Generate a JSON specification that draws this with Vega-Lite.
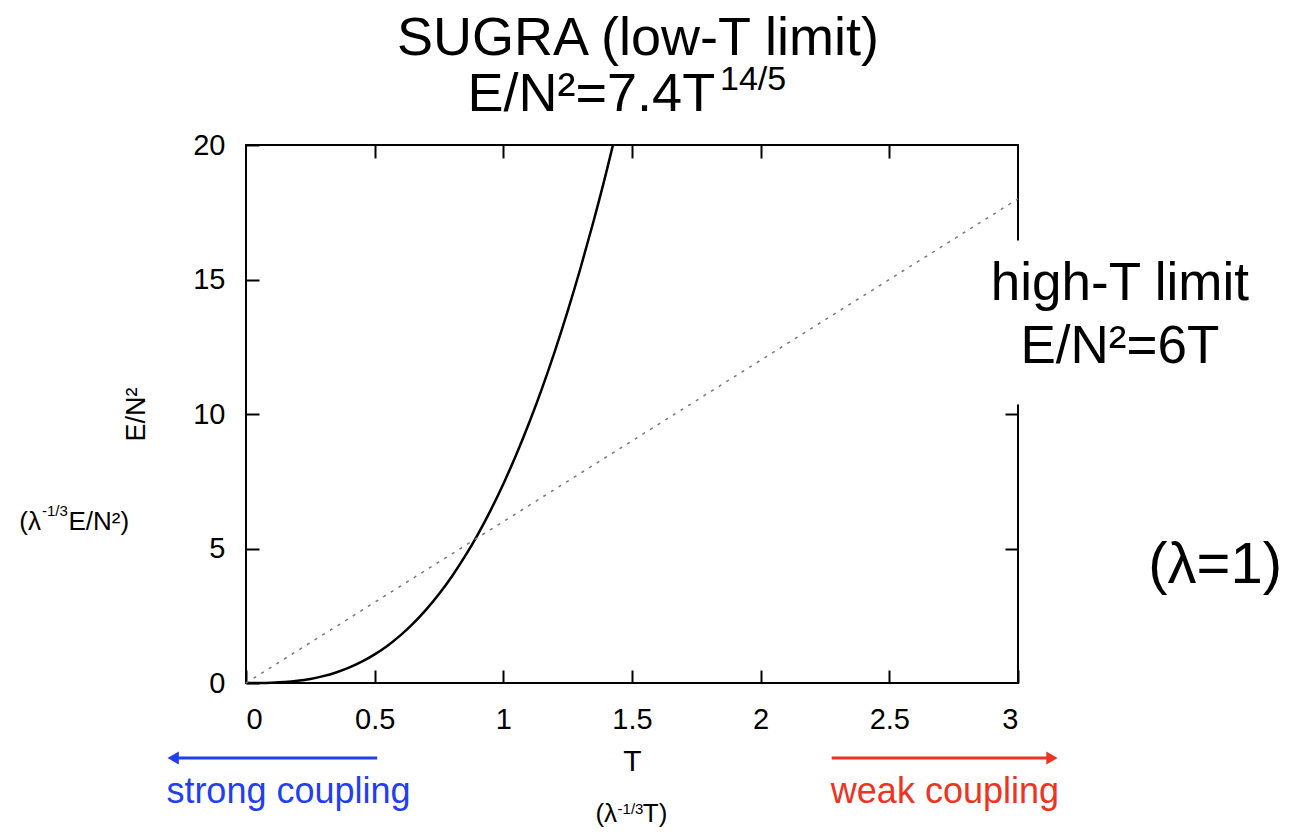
{
  "$schema": "https://vega.github.io/schema/vega-lite/v6.json",
  "width": 772,
  "height": 538,
  "autosize": {"type": "none"},
  "padding": {"left": 246, "top": 145, "right": 271, "bottom": 152},
  "background": "white",
  "config": {
    "view": {"stroke": "black", "strokeWidth": 2},
    "font": "Liberation Sans"
  },
  "resolve": {"axis": {"x": "independent", "y": "independent"}},
  "layer": [
    {
      "data": {"values": [
        {"T": 0, "E": 0}, {"T": 0.05, "E": 0.0017}, {"T": 0.1, "E": 0.0117}, {"T": 0.15, "E": 0.0365},
        {"T": 0.2, "E": 0.0817}, {"T": 0.25, "E": 0.1526}, {"T": 0.3, "E": 0.2543}, {"T": 0.35, "E": 0.3914},
        {"T": 0.4, "E": 0.5689}, {"T": 0.45, "E": 0.791}, {"T": 0.5, "E": 1.0626}, {"T": 0.55, "E": 1.3877},
        {"T": 0.6, "E": 1.7704}, {"T": 0.65, "E": 2.215}, {"T": 0.7, "E": 2.7259}, {"T": 0.75, "E": 3.307},
        {"T": 0.8, "E": 3.9617}, {"T": 0.85, "E": 4.6946}, {"T": 0.9, "E": 5.5096}, {"T": 0.95, "E": 6.41},
        {"T": 1.0, "E": 7.4}, {"T": 1.05, "E": 8.483}, {"T": 1.1, "E": 9.663}, {"T": 1.15, "E": 10.944},
        {"T": 1.2, "E": 12.329}, {"T": 1.25, "E": 13.822}, {"T": 1.3, "E": 15.427}, {"T": 1.35, "E": 17.147},
        {"T": 1.4, "E": 18.984}, {"T": 1.426, "E": 20}
      ]},
      "mark": {"type": "line", "color": "black", "strokeWidth": 2.5, "interpolate": "monotone"},
      "encoding": {
        "x": {"field": "T", "type": "quantitative", "scale": {"domain": [0, 3], "nice": false},
          "axis": {"orient": "bottom", "values": [0, 0.5, 1, 1.5, 2, 2.5, 3], "format": "~g", "domain": false, "grid": false,
            "ticks": true, "tickSize": -13, "tickWidth": 2, "tickColor": "black", "labelPadding": 35,
            "labelFont": "Liberation Sans", "labelFontSize": 29, "labelColor": "black",
            "title": "T", "titleFont": "Liberation Sans", "titleFontSize": 30, "titleFontWeight": "normal", "titleColor": "black", "titlePadding": 12}},
        "y": {"field": "E", "type": "quantitative", "scale": {"domain": [0, 20], "nice": false},
          "axis": {"orient": "left", "values": [0, 5, 10, 15, 20], "domain": false, "grid": false,
            "ticks": true, "tickSize": -13, "tickWidth": 2, "tickColor": "black", "labelPadding": 34,
            "labelFont": "Liberation Sans", "labelFontSize": 29, "labelColor": "black",
            "title": "E/N²", "titleFont": "Liberation Sans", "titleFontSize": 27, "titleFontWeight": "normal", "titleColor": "black", "titlePadding": 42}}
      }
    },
    {
      "data": {"values": [{"T": 0, "E": 0}, {"T": 3, "E": 18}]},
      "mark": {"type": "line", "color": "#777777", "strokeWidth": 1.5, "strokeDash": [3, 6]},
      "encoding": {
        "x": {"field": "T", "type": "quantitative",
          "axis": {"orient": "top", "values": [0.5, 1, 1.5, 2, 2.5], "domain": false, "grid": false, "labels": false,
            "ticks": true, "tickSize": -13, "tickWidth": 2, "tickColor": "black", "title": null}},
        "y": {"field": "E", "type": "quantitative",
          "axis": {"orient": "right", "values": [5, 10, 15], "domain": false, "grid": false, "labels": false,
            "ticks": true, "tickSize": -13, "tickWidth": 2, "tickColor": "black", "title": null}}
      }
    },
    {
      "data": {"values": [{"T": 2.9, "T2": 3.98, "E": 10.35, "E2": 16.45}]},
      "mark": {"type": "rect", "color": "white"},
      "encoding": {
        "x": {"field": "T", "type": "quantitative", "axis": null},
        "x2": {"field": "T2"},
        "y": {"field": "E", "type": "quantitative", "axis": null},
        "y2": {"field": "E2"}
      }
    },
    {
      "data": {"values": [{"T": 1.523, "E": 23.35, "label": "SUGRA (low-T limit)"}]},
      "mark": {"type": "text", "font": "Liberation Sans", "fontSize": 54, "align": "center", "baseline": "alphabetic", "color": "black"},
      "encoding": {
        "x": {"field": "T", "type": "quantitative", "axis": null},
        "y": {"field": "E", "type": "quantitative", "axis": null},
        "text": {"field": "label"}
      }
    },
    {
      "data": {"values": [{"T": 1.823, "E": 21.25, "label": "E/N²=7.4T"}]},
      "mark": {"type": "text", "font": "Liberation Sans", "fontSize": 54, "align": "right", "baseline": "alphabetic", "color": "black"},
      "encoding": {
        "x": {"field": "T", "type": "quantitative", "axis": null},
        "y": {"field": "E", "type": "quantitative", "axis": null},
        "text": {"field": "label"}
      }
    },
    {
      "data": {"values": [{"T": 1.842, "E": 22.04, "label": "14/5"}]},
      "mark": {"type": "text", "font": "Liberation Sans", "fontSize": 34, "align": "left", "baseline": "alphabetic", "color": "black"},
      "encoding": {
        "x": {"field": "T", "type": "quantitative", "axis": null},
        "y": {"field": "E", "type": "quantitative", "axis": null},
        "text": {"field": "label"}
      }
    },
    {
      "data": {"values": [
        {"T": 3.396, "E": 14.24, "label": "high-T limit"},
        {"T": 3.396, "E": 11.9, "label": "E/N²=6T"}
      ]},
      "mark": {"type": "text", "font": "Liberation Sans", "fontSize": 53, "align": "center", "baseline": "alphabetic", "color": "black"},
      "encoding": {
        "x": {"field": "T", "type": "quantitative", "axis": null},
        "y": {"field": "E", "type": "quantitative", "axis": null},
        "text": {"field": "label"}
      }
    },
    {
      "data": {"values": [{"T": 3.766, "E": 3.72, "label": "(λ=1)"}]},
      "mark": {"type": "text", "font": "Liberation Sans", "fontSize": 58, "align": "center", "baseline": "alphabetic", "color": "black"},
      "encoding": {
        "x": {"field": "T", "type": "quantitative", "axis": null},
        "y": {"field": "E", "type": "quantitative", "axis": null},
        "text": {"field": "label"}
      }
    },
    {
      "data": {"values": [
        {"T": -0.797, "E": 5.69, "label": "(λ"},
        {"T": 1.442, "E": -5.17, "label": "(λ"}
      ]},
      "mark": {"type": "text", "font": "Liberation Sans", "fontSize": 26, "align": "right", "baseline": "alphabetic", "color": "black"},
      "encoding": {
        "x": {"field": "T", "type": "quantitative", "axis": null},
        "y": {"field": "E", "type": "quantitative", "axis": null},
        "text": {"field": "label"}
      }
    },
    {
      "data": {"values": [
        {"T": -0.69, "E": 5.69, "label": "E/N²)"},
        {"T": 1.542, "E": -5.17, "label": "T)"}
      ]},
      "mark": {"type": "text", "font": "Liberation Sans", "fontSize": 26, "align": "left", "baseline": "alphabetic", "color": "black"},
      "encoding": {
        "x": {"field": "T", "type": "quantitative", "axis": null},
        "y": {"field": "E", "type": "quantitative", "axis": null},
        "text": {"field": "label"}
      }
    },
    {
      "data": {"values": [
        {"T": -0.793, "E": 6.2, "label": "-1/3"},
        {"T": 1.444, "E": -4.88, "label": "-1/3"}
      ]},
      "mark": {"type": "text", "font": "Liberation Sans", "fontSize": 15, "align": "left", "baseline": "alphabetic", "color": "black"},
      "encoding": {
        "x": {"field": "T", "type": "quantitative", "axis": null},
        "y": {"field": "E", "type": "quantitative", "axis": null},
        "text": {"field": "label"}
      }
    },
    {
      "data": {"values": [
        {"T": 0.165, "E": -4.46, "label": "strong coupling", "side": "strong"},
        {"T": 2.716, "E": -4.46, "label": "weak coupling", "side": "weak"}
      ]},
      "mark": {"type": "text", "font": "Liberation Sans", "fontSize": 36, "align": "center", "baseline": "alphabetic"},
      "encoding": {
        "x": {"field": "T", "type": "quantitative", "axis": null},
        "y": {"field": "E", "type": "quantitative", "axis": null},
        "text": {"field": "label"},
        "color": {"field": "side", "type": "nominal", "scale": {"domain": ["strong", "weak"], "range": ["#1f3ff0", "#ee3322"]}, "legend": null}
      }
    },
    {
      "data": {"values": [
        {"from": 0.51, "to": -0.27, "E": -2.79, "side": "strong"},
        {"from": 2.276, "to": 3.12, "E": -2.79, "side": "weak"}
      ]},
      "mark": {"type": "rule", "strokeWidth": 3},
      "encoding": {
        "x": {"field": "from", "type": "quantitative", "axis": null},
        "x2": {"field": "to"},
        "y": {"field": "E", "type": "quantitative", "axis": null},
        "color": {"field": "side", "type": "nominal", "scale": {"domain": ["strong", "weak"], "range": ["#1f3ff0", "#ee3322"]}, "legend": null}
      }
    },
    {
      "data": {"values": [
        {"T": -0.283, "E": -2.79, "side": "strong", "dir": "left"},
        {"T": 3.132, "E": -2.79, "side": "weak", "dir": "right"}
      ]},
      "mark": {"type": "point", "filled": true, "size": 170, "opacity": 1},
      "encoding": {
        "x": {"field": "T", "type": "quantitative", "axis": null},
        "y": {"field": "E", "type": "quantitative", "axis": null},
        "shape": {"field": "dir", "type": "nominal", "scale": {"domain": ["left", "right"], "range": ["triangle-left", "triangle-right"]}, "legend": null},
        "color": {"field": "side", "type": "nominal", "scale": {"domain": ["strong", "weak"], "range": ["#1f3ff0", "#ee3322"]}, "legend": null}
      }
    }
  ]
}
